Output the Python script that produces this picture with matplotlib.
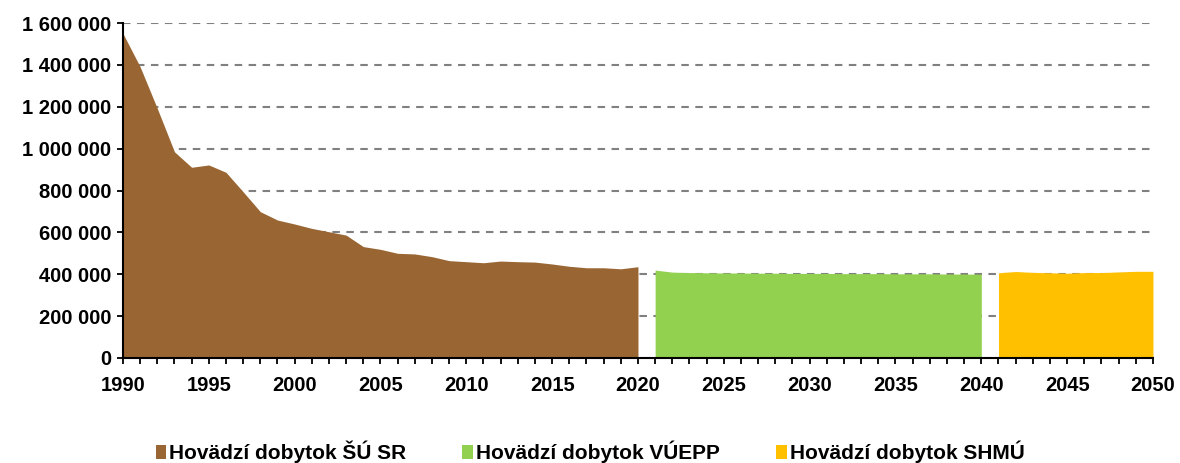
import numpy as np
import matplotlib
matplotlib.use('Agg')
import matplotlib.pyplot as plt
from matplotlib.ticker import FuncFormatter, MultipleLocator
from matplotlib.patches import Patch

# #### Data
years_susr = list(range(1990, 2021))
cattle_susr = [1550000, 1391000, 1192000, 985000, 911000, 922000, 887000, 794000,
               699000, 659000, 640000, 619000, 603000, 587000, 532000, 519000,
               500000, 497000, 484000, 465000, 460000, 455000, 463000, 460000,
               458000, 449000, 438000, 431000, 431000, 426000, 436000]

years_vuepp = list(range(2021, 2041))
cattle_vuepp = [420000, 410000, 408000, 407000, 406000, 406000, 405000, 405000,
                404000, 404000, 404000, 403000, 403000, 403000, 402000, 402000,
                402000, 401000, 401000, 400000]

years_shmu = list(range(2041, 2051))
cattle_shmu = [407000, 413000, 409000, 407000, 405000, 408000, 408000, 411000,
               414000, 414000]

labels = ['Hovädzí dobytok ŠÚ SR', 'Hovädzí dobytok VÚEPP', 'Hovädzí dobytok SHMÚ']
colors = ['#996633', '#92D050', '#FFC000']

# #### Figure
plt.rcParams['font.family'] = ['Liberation Sans', 'DejaVu Sans']
plt.rcParams['font.weight'] = 'bold'
plt.rcParams['font.size'] = 14.5

fig = plt.figure(figsize=(11.8, 4.63), dpi=100)
ax = fig.add_axes([0.1042, 0.2268, 0.9771 - 0.1042, 0.9503 - 0.2268])

series = [(years_susr, cattle_susr), (years_vuepp, cattle_vuepp), (years_shmu, cattle_shmu)]
for (x, y), col in zip(series, colors):
    ax.fill_between(x, 0, y, color=col, linewidth=0, zorder=2)

ax.set_xlim(1990, 2050)
ax.set_ylim(0, 1600000)
ax.xaxis.set_major_locator(MultipleLocator(5))
ax.xaxis.set_minor_locator(MultipleLocator(1))
ax.yaxis.set_major_locator(MultipleLocator(200000))
ax.yaxis.set_major_formatter(FuncFormatter(lambda v, p: f'{int(v):,}'.replace(',', ' ')))

# dashed grey gridlines
for v in np.arange(200000, 1600001, 200000):
    ax.axhline(v, color='#808080', linestyle=(0, (3.6, 3.1)), linewidth=1.5, zorder=1)

for s in ['top', 'right']:
    ax.spines[s].set_visible(False)
for s in ['left', 'bottom']:
    ax.spines[s].set_linewidth(1.5)
    ax.spines[s].set_zorder(3)

ax.tick_params(axis='both', which='both', direction='out', width=1.3, length=4.5)
ax.tick_params(axis='x', which='both', pad=8.5)
ax.tick_params(axis='y', pad=4)
for lbl in ax.get_xticklabels() + ax.get_yticklabels():
    lbl.set_fontweight('bold')

handles = [Patch(facecolor=c, edgecolor='none') for c in colors]
fig.legend(handles, labels, loc='center', bbox_to_anchor=(0.5, 0.024), ncol=3,
           frameon=False, handlelength=0.5, handleheight=0.7, handletextpad=0.15,
           columnspacing=2.7, prop={'weight': 'bold', 'size': 15})

plt.savefig('out.png', dpi=100, facecolor='w')
